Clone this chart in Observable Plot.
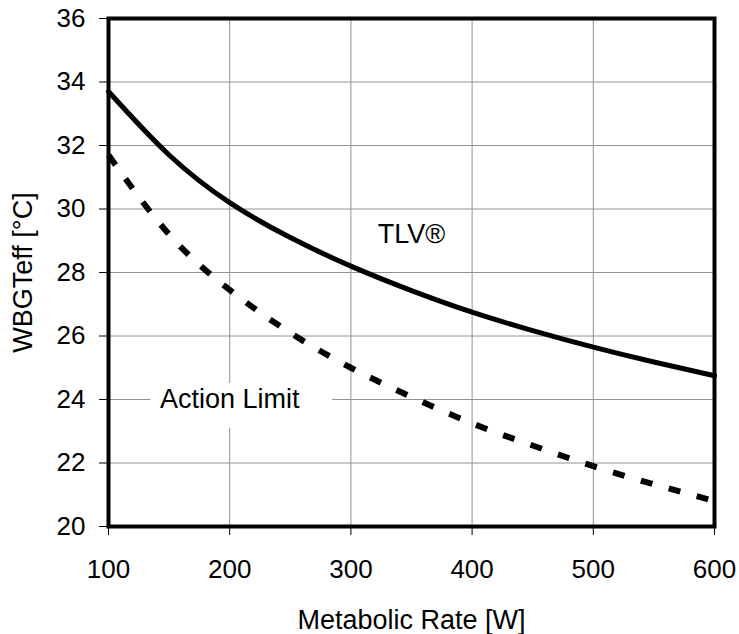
<!DOCTYPE html>
<html>
<head>
<meta charset="utf-8">
<script src="https://cdn.jsdelivr.net/npm/d3@7"></script>
<script src="https://cdn.jsdelivr.net/npm/@observablehq/plot@0.6"></script>
<style>
  html, body { margin: 0; padding: 0; background: #fff; }
</style>
</head>
<body>
<div id="chart"></div>
<script>
const metabolicRate = [100, 150, 200, 250, 300, 350, 400, 450, 500, 550, 600];
const tlvValues     = [33.7, 31.7, 30.2, 29.1, 28.2, 27.43, 26.75, 26.17, 25.65, 25.18, 24.75];
const actionValues  = [31.7, 29.2, 27.45, 26.1, 25.0, 24.08, 23.25, 22.55, 21.9, 21.33, 20.8];
const xTicks = [100, 200, 300, 400, 500, 600];
const yTicks = [20, 22, 24, 26, 28, 30, 32, 34, 36];
const curveLabels = [
  {text: "TLV®", x: 350, y: 29.2},
  {text: "Action Limit", x: 200, y: 24}
];
const labelBoxes = [{x1: 135, x2: 285, y1: 23.1, y2: 24.5}];
const xTitle = "Metabolic Rate [W]";
const yTitle = "WBGTeff [°C]";

const tlv = metabolicRate.map((m, i) => ({m, v: tlvValues[i]}));
const action = metabolicRate.map((m, i) => ({m, v: actionValues[i]}));

const W = 739, H = 634;
const mL = 108, mR = 25, mT = 18, mB = 108;

const chart = Plot.plot({
  width: W, height: H,
  marginLeft: mL, marginRight: mR, marginTop: mT, marginBottom: mB,
  style: {fontFamily: "'Liberation Sans', Arial, sans-serif", fontSize: "26px", color: "black", background: "white", overflow: "visible"},
  x: {domain: [100, 600]},
  y: {domain: [20, 36]},
  marks: [
    Plot.gridX(xTicks, {stroke: "#929292", strokeOpacity: 1, strokeWidth: 1}),
    Plot.gridY(yTicks, {stroke: "#929292", strokeOpacity: 1, strokeWidth: 1}),
    Plot.rect(labelBoxes, {x1: "x1", x2: "x2", y1: "y1", y2: "y2", fill: "white"}),
    Plot.line(tlv, {x: "m", y: "v", curve: "natural", stroke: "black", strokeWidth: 5}),
    Plot.line(action, {x: "m", y: "v", curve: "natural", stroke: "black", strokeWidth: 6, strokeDasharray: "12,17", strokeLinecap: "butt"}),
    Plot.text(curveLabels, {x: "x", y: "y", text: "text", fontSize: 27, fill: "black"}),
    Plot.frame({stroke: "black", strokeWidth: 4}),
    Plot.axisX(xTicks, {tickSize: 9, tickPadding: 24, fontSize: 26, label: null, stroke: "black", strokeWidth: 1}),
    Plot.axisY(yTicks, {tickSize: 9, tickPadding: 14, fontSize: 26, label: null, stroke: "black", strokeWidth: 1}),
    Plot.text([xTitle], {frameAnchor: "bottom", dy: 106 - 4, lineAnchor: "bottom", fontSize: 27, text: d => d}),
    Plot.text([yTitle], {frameAnchor: "left", dx: -(mL - 12), rotate: -90, lineAnchor: "top", textAnchor: "middle", fontSize: 27, text: d => d})
  ]
});
document.getElementById("chart").appendChild(chart);
</script>
</body>
</html>
